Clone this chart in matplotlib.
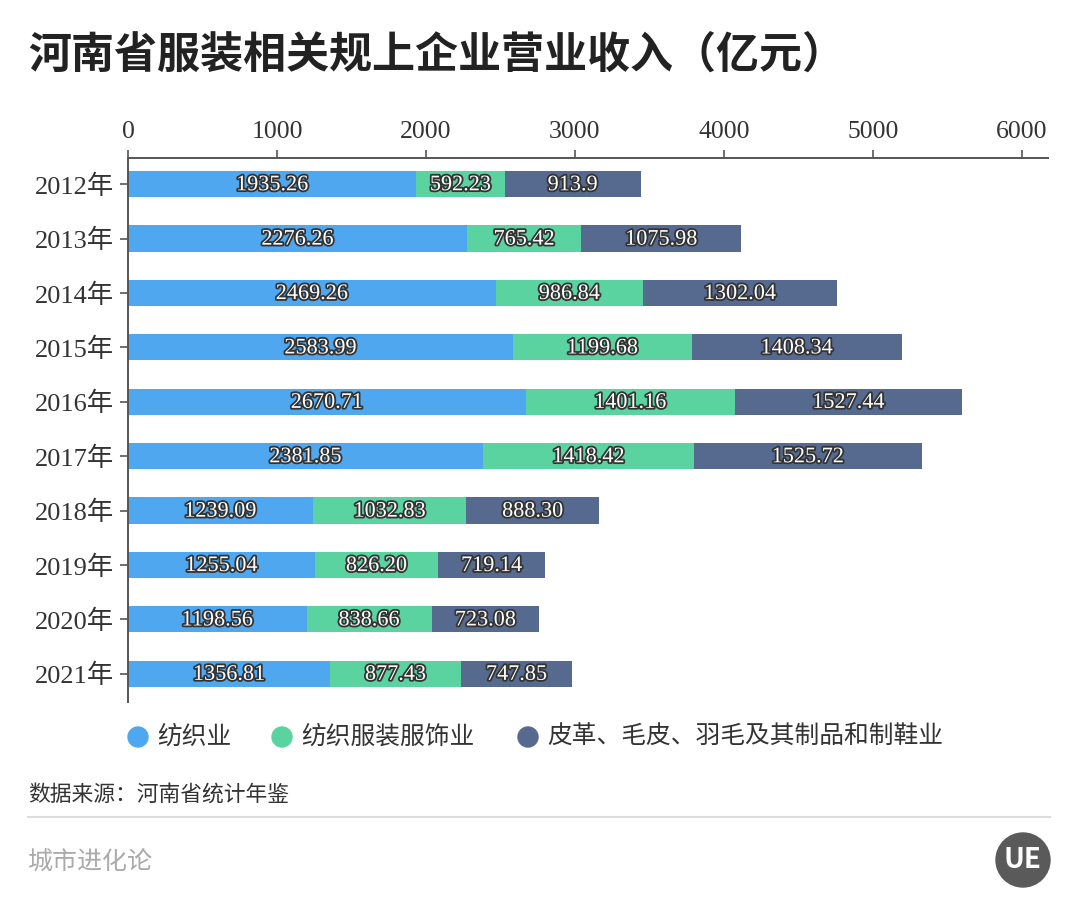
import matplotlib.pyplot as plt
import matplotlib.patheffects as pe
from matplotlib.patches import Ellipse

plt.rcParams['font.family'] = ['Noto Sans CJK SC', 'DejaVu Sans']

# ===== 数据 =====
years = ['2012年', '2013年', '2014年', '2015年', '2016年',
         '2017年', '2018年', '2019年', '2020年', '2021年']
textile = [1935.26, 2276.26, 2469.26, 2583.99, 2670.71,
           2381.85, 1239.09, 1255.04, 1198.56, 1356.81]
apparel = [592.23, 765.42, 986.84, 1199.68, 1401.16,
           1418.42, 1032.83, 826.20, 838.66, 877.43]
leather = [913.9, 1075.98, 1302.04, 1408.34, 1527.44,
           1525.72, 888.30, 719.14, 723.08, 747.85]
labels = [
    ['1935.26', '2276.26', '2469.26', '2583.99', '2670.71',
     '2381.85', '1239.09', '1255.04', '1198.56', '1356.81'],
    ['592.23', '765.42', '986.84', '1199.68', '1401.16',
     '1418.42', '1032.83', '826.20', '838.66', '877.43'],
    ['913.9', '1075.98', '1302.04', '1408.34', '1527.44',
     '1525.72', '888.30', '719.14', '723.08', '747.85'],
]
series_names = ['纺织业', '纺织服装服饰业', '皮革、毛皮、羽毛及其制品和制鞋业']
colors = ['#4fa8ef', '#5ad3a1', '#56698f']
xticks = [0, 1000, 2000, 3000, 4000, 5000, 6000]

W, H = 1080, 918
fig = plt.figure(figsize=(W / 100, H / 100), dpi=100)
ax = fig.add_axes([128 / W, 1 - 702 / H, (1048 - 128) / W, (702 - 158) / H])

y = list(range(len(years)))
left = [0.0] * len(years)
for vals, col, labs in zip([textile, apparel, leather], colors, labels):
    ax.barh(y, vals, left=left, height=0.48, color=col)
    for i, (v, l, s) in enumerate(zip(vals, left, labs)):
        ax.text(l + v / 2, i + 0.03, s, ha='center', va='center', fontsize=16,
                family='Liberation Serif', color='white',
                path_effects=[pe.withStroke(linewidth=2.6, foreground='#333333')])
    left = [a + b for a, b in zip(left, vals)]

ax.set_xlim(0, 6175)
ax.set_ylim(9.52, -0.48)
ax.set_yticks(y)
ax.set_yticklabels(years)
ax.set_xticks(xticks)
ax.set_xticklabels([str(t) for t in xticks], family='Liberation Serif')
ax.xaxis.tick_top()
ax.tick_params(axis='x', length=6, width=1.2, color='#555555', labelsize=18.5,
               labelcolor='#333333', pad=5)
ax.tick_params(axis='y', length=6, width=1.2, color='#555555', labelsize=19,
               labelcolor='#333333', pad=4)
for lab in ax.get_yticklabels():
    lab.set_family(['Liberation Serif', 'Noto Sans CJK SC'])
for s in ['right', 'bottom']:
    ax.spines[s].set_visible(False)
for s in ['top', 'left']:
    ax.spines[s].set_color('#555555')
    ax.spines[s].set_linewidth(1.4)

# 标题
fig.text(28 / W, 1 - 55 / H, '河南省服装相关规上企业营业收入（亿元）',
         fontsize=31, fontweight='bold', color='#222222', va='center', ha='left')

# 图例
leg_x = [138, 282, 528]
for lx, name, col in zip(leg_x, series_names, colors):
    fig.patches.append(Ellipse((lx / W, 1 - 737 / H), 20 / W, 20 / H,
                               transform=fig.transFigure, color=col))
    fig.text((lx + 19) / W, 1 - 737 / H, name, fontsize=17.8,
             color='#333333', va='center', ha='left')

fig.text(28 / W, 1 - 795 / H, '数据来源：河南省统计年鉴',
         fontsize=15.7, color='#333333', va='center', ha='left')
fig.add_artist(plt.Line2D([28 / W, 1050 / W], [1 - 817 / H] * 2,
                          color='#dddddd', linewidth=1.5))
fig.text(28 / W, 1 - 862 / H, '城市进化论',
         fontsize=18, color='#aaaaaa', va='center', ha='left')

# logo
fig.patches.append(Ellipse((1023 / W, 1 - 860 / H), 54 / W, 54 / H,
                           transform=fig.transFigure, color='#5a5a5a'))
fig.text(1023 / W, 1 - 860 / H, 'UE', fontsize=20, fontweight='bold',
         color='white', va='center', ha='center')

fig.savefig('out.png', dpi=100)
